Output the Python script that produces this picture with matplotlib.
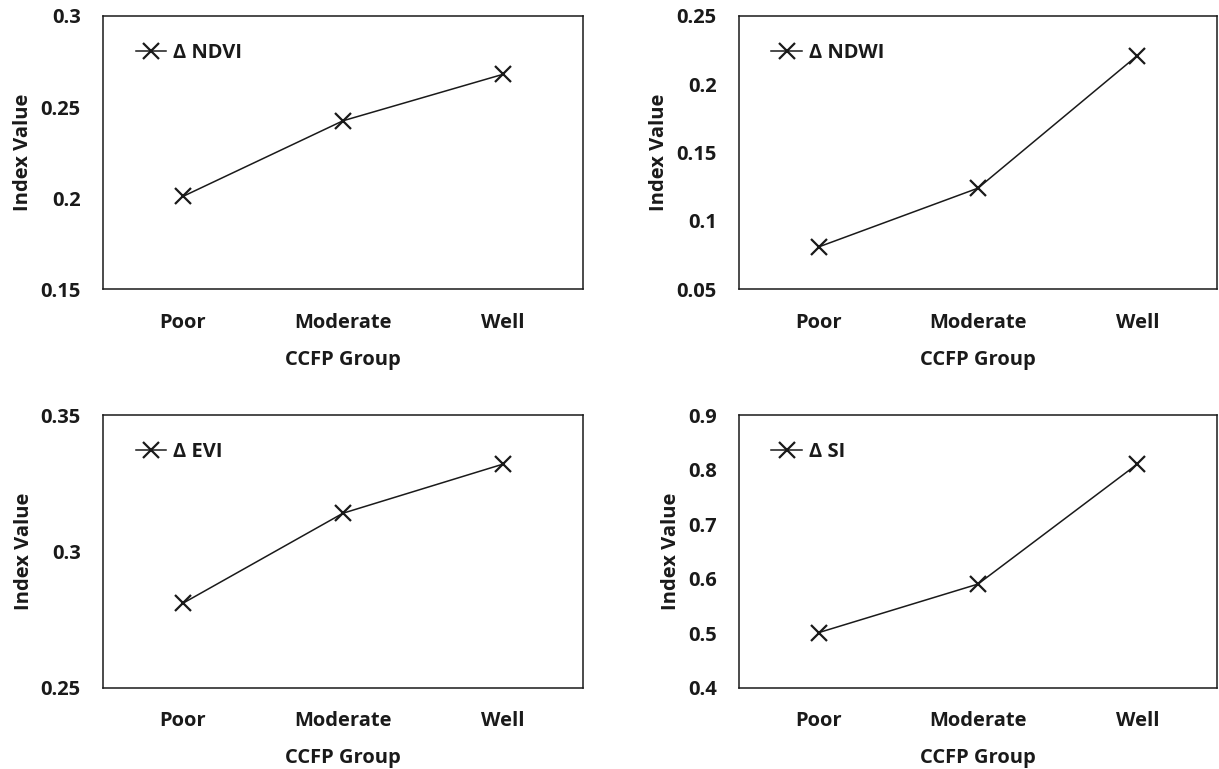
#!/usr/bin/env python3
"""
Four-panel change-index plot by CCFP group (NDVI, NDWI, EVI, SI).
"""

import matplotlib
matplotlib.use('Agg')
import matplotlib.pyplot as plt

plt.rcParams.update({
    'font.family': ['Open Sans', 'DejaVu Sans'],
    'font.weight': 'bold',
    'font.size': 14.5,
    'axes.labelweight': 'bold',
})

groups = ['Poor', 'Moderate', 'Well']

ndvi = [0.201, 0.2425, 0.268]
ndwi = [0.081, 0.124, 0.221]
evi = [0.281, 0.314, 0.332]
si = [0.501, 0.590, 0.810]

panels = [
    ('\u0394 NDVI', ndvi, (0.15, 0.30), [0.15, 0.2, 0.25, 0.3], ['0.15', '0.2', '0.25', '0.3']),
    ('\u0394 NDWI', ndwi, (0.05, 0.25), [0.05, 0.1, 0.15, 0.2, 0.25], ['0.05', '0.1', '0.15', '0.2', '0.25']),
    ('\u0394 EVI', evi, (0.25, 0.35), [0.25, 0.3, 0.35], ['0.25', '0.3', '0.35']),
    ('\u0394 SI', si, (0.4, 0.9), [0.4, 0.5, 0.6, 0.7, 0.8, 0.9], ['0.4', '0.5', '0.6', '0.7', '0.8', '0.9']),
]

# axes rectangles in figure fraction (left, bottom, width, height)
rects = [
    (0.0845, 0.6238, 0.3938, 0.3554),
    (0.6062, 0.6238, 0.3921, 0.3554),
    (0.0845, 0.1057, 0.3938, 0.3546),
    (0.6062, 0.1057, 0.3921, 0.3546),
]

fig = plt.figure(figsize=(12.19, 7.69), dpi=100)

for (label, vals, ylim, yticks, yticklabels), rect in zip(panels, rects):
    ax = fig.add_axes(rect)
    x = list(range(len(groups)))
    ax.plot(x, vals, color='#1a1a1a', lw=1.1, marker='x', markersize=12,
            markeredgewidth=1.6, label=label)
    ax.set_xlim(-0.5, len(groups) - 0.5)
    ax.set_ylim(*ylim)
    ax.set_xticks(x)
    ax.set_xticklabels(groups)
    ax.set_yticks(yticks)
    ax.set_yticklabels(yticklabels)
    ax.tick_params(axis='both', length=0, labelsize=14.5, colors='#1a1a1a')
    ax.tick_params(axis='x', pad=17)
    ax.tick_params(axis='y', pad=16)
    for sp in ax.spines.values():
        sp.set_linewidth(1.1)
        sp.set_color('#1a1a1a')
    ax.set_xlabel('CCFP Group', fontsize=14.5, labelpad=12, color='#1a1a1a')
    ax.set_ylabel('Index Value', fontsize=14.5, labelpad=5, color='#1a1a1a')
    ax.legend(loc='center left', bbox_to_anchor=(0.068, 0.865), frameon=False,
              handlelength=1.5, handletextpad=0.35, borderpad=0, borderaxespad=0,
              fontsize=14.5, labelcolor='#1a1a1a')

fig.savefig('out.png', dpi=100)
